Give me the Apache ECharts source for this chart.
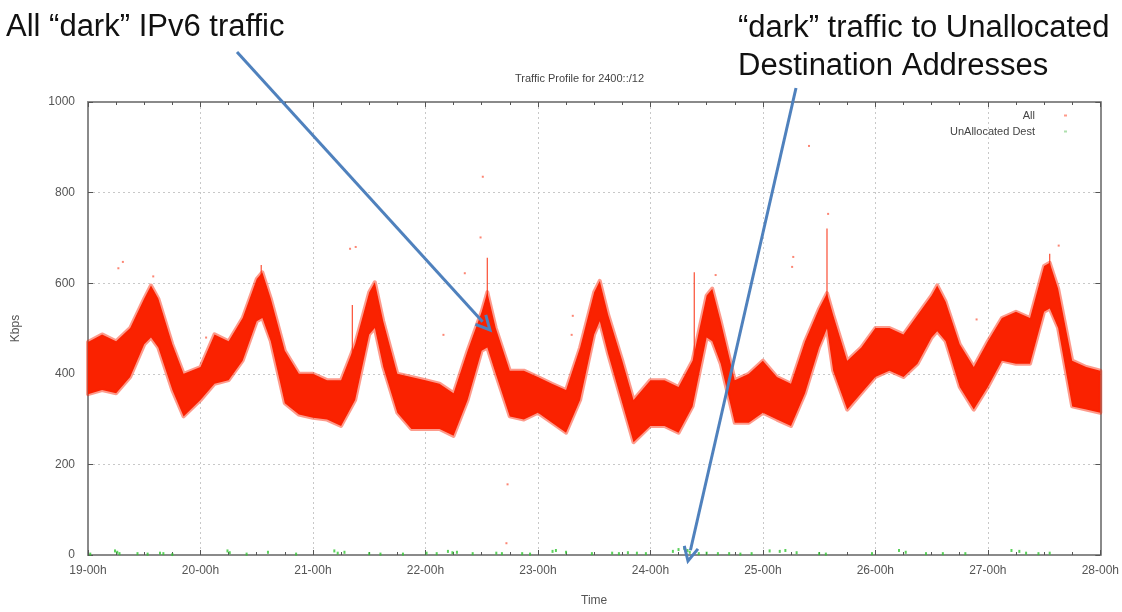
<!DOCTYPE html>
<html>
<head>
<meta charset="utf-8">
<script src="https://cdn.jsdelivr.net/npm/echarts@6/dist/echarts.min.js"></script>
<style>
html,body{margin:0;padding:0;background:#fff;}
#chart{width:1122px;height:612px;}
</style>
</head>
<body>
<div id="chart"></div>
<script>
// ---- data ----
const xTickLabels = ['19-00h','20-00h','21-00h','22-00h','23-00h','24-00h','25-00h','26-00h','27-00h','28-00h'];
const yTicks = [0, 200, 400, 600, 800, 1000];

// band samples (day position, band top / band bottom in Kbps) for "All"
const bandDays = [19.0,19.125,19.25,19.375,19.5,19.56,19.625,19.75,19.85,20.0,20.125,20.25,20.375,20.5,20.55,20.625,20.75,20.875,21.0,21.125,21.25,21.375,21.5,21.55,21.625,21.75,21.875,22.0,22.125,22.25,22.375,22.5,22.55,22.625,22.75,22.875,23.0,23.125,23.25,23.375,23.5,23.55,23.625,23.75,23.85,24.0,24.125,24.25,24.375,24.5,24.55,24.625,24.75,24.875,25.0,25.125,25.25,25.375,25.5,25.57,25.625,25.75,25.875,26.0,26.125,26.25,26.375,26.5,26.55,26.625,26.75,26.875,27.0,27.125,27.25,27.375,27.5,27.55,27.625,27.75,27.875,28.0];
const bandTop = [470,487,472,501,566,595,566,465,400,415,487,472,523,609,624,566,451,400,400,386,386,465,580,602,516,400,393,386,378,357,451,537,580,501,407,407,393,378,364,458,580,605,530,429,342,386,386,371,429,573,588,516,386,400,429,393,378,472,544,578,530,429,458,501,501,487,530,573,595,559,465,415,472,523,537,523,638,645,588,429,415,407];
const bandBottom = [355,364,357,393,465,480,458,364,306,342,378,386,429,516,523,472,335,310,303,299,285,342,487,501,415,314,278,278,278,263,342,451,458,400,306,299,314,292,270,342,487,516,443,335,249,285,285,270,328,480,472,422,292,292,314,299,285,357,458,500,407,321,357,393,407,393,422,480,494,472,371,321,371,429,422,422,537,544,501,328,321,314];

// thin spikes above the band: [day, from, to]
const spikeDays = [20.54, 21.35, 22.55, 24.39, 25.57, 27.55];
const spikeFrom = [600, 440, 560, 430, 560, 620];
const spikeTo   = [640, 552, 656, 624, 721, 665];

// scattered outliers of "All"
const outDays = [25.41,25.58,22.51,22.49,22.73,22.72,21.33,19.31,19.27,19.58,22.35,22.16,23.31,23.30,25.26,25.27,24.58,27.63,21.38,20.05,26.9,27.7];
const outVals = [903,753,835,701,156,26,676,647,633,615,622,486,528,486,636,658,618,683,680,480,520,470];

// "UnAllocated Dest" readings
const unDays = [19.02,19.24,19.26,19.28,19.44,19.53,19.64,19.67,19.75,20.24,20.26,20.41,20.6,20.85,21.19,21.22,21.28,21.5,21.6,21.8,22.01,22.1,22.2,22.24,22.28,22.42,22.63,22.68,22.86,22.93,23.13,23.16,23.25,23.48,23.66,23.72,23.8,23.88,23.96,24.2,24.25,24.3,24.33,24.35,24.43,24.5,24.6,24.7,24.8,24.9,25.06,25.15,25.2,25.3,25.5,25.56,25.97,26.21,26.27,26.45,26.6,26.8,27.21,27.28,27.34,27.45,27.55];
const unVals = [2,9,6,3,3,2,4,3,1,9,5,2,6,2,9,4,6,3,2,2,4,3,8,5,6,3,4,3,3,2,8,10,6,3,4,3,5,4,3,8,12,15,10,6,3,4,3,3,2,3,9,8,10,5,3,2,3,10,6,3,3,3,10,8,4,3,4];

// ---- chart ----
const RED = '#fa2200';
const GREEN = '#33c433';
const BLUE = '#4f81bd';
const chart = echarts.init(document.getElementById('chart'), null, {renderer: 'canvas'});

const bandData = bandDays.map((d, i) => [d, bandTop[i], bandBottom[i]]);
const spikeData = spikeDays.map((d, i) => [d, spikeFrom[i], spikeTo[i]]);
const outData = outDays.map((d, i) => [d, outVals[i]]);
const unData = unDays.map((d, i) => [d, unVals[i]]);

const labelStyle = {color: '#555', fontSize: 12, fontFamily: 'Liberation Sans, Arial, sans-serif'};

const option = {
  animation: false,
  backgroundColor: '#fff',
  title: {
    text: 'Traffic Profile for 2400::/12',
    left: 510, top: 68,
    textStyle: {fontSize: 11, fontWeight: 'normal', color: '#444', fontFamily: 'Liberation Sans, Arial, sans-serif'}
  },
  legend: {
    orient: 'vertical', right: 50, top: 105, align: 'right',
    itemWidth: 3, itemHeight: 2, itemGap: 5,
    textStyle: {fontSize: 11, color: '#444', fontFamily: 'Liberation Sans, Arial, sans-serif', padding: [0, 24, 0, 0]},
    data: [
      {name: 'All', icon: 'rect', itemStyle: {color: '#ff9a8a'}},
      {name: 'UnAllocated Dest', icon: 'rect', itemStyle: {color: '#9ad89a'}}
    ]
  },
  grid: {left: 88, right: 19, top: 102, bottom: 48, containLabel: false},
  xAxis: [{
    type: 'value', min: 19, max: 28, interval: 1,
    name: 'Time', nameLocation: 'middle', nameGap: 40,
    nameTextStyle: labelStyle,
    axisLine: {show: true, onZero: false, lineStyle: {color: '#8a8a8a', width: 2}},
    axisTick: {show: true, inside: true, length: 5, lineStyle: {color: '#555'}},
    minorTick: {show: true, splitNumber: 4, length: 3, lineStyle: {color: '#555'}},
    axisLabel: Object.assign({margin: 10, formatter: v => xTickLabels[Math.round(v - 19)]}, labelStyle),
    splitLine: {show: true, lineStyle: {color: '#c8c8c8', type: [2, 3], width: 1}}
  }, {
    type: 'value', min: 19, max: 28, interval: 1, position: 'top',
    axisLine: {show: true, onZero: false, lineStyle: {color: '#8a8a8a', width: 2}},
    axisTick: {show: true, inside: true, length: 5, lineStyle: {color: '#555'}},
    minorTick: {show: true, splitNumber: 4, length: 3, lineStyle: {color: '#555'}},
    axisLabel: {show: false}, splitLine: {show: false}
  }],
  yAxis: [{
    type: 'value', min: 0, max: 1000, interval: 200,
    name: 'Kbps', nameLocation: 'middle', nameGap: 66, nameRotate: 90,
    nameTextStyle: labelStyle,
    axisLine: {show: true, onZero: false, lineStyle: {color: '#8a8a8a', width: 2}},
    axisTick: {show: true, inside: true, length: 5, lineStyle: {color: '#555'}},
    axisLabel: Object.assign({margin: 13, formatter: v => String(v)}, labelStyle),
    splitLine: {show: true, lineStyle: {color: '#c8c8c8', type: [2, 3], width: 1}}
  }, {
    type: 'value', min: 0, max: 1000, interval: 200, position: 'right',
    axisLine: {show: true, onZero: false, lineStyle: {color: '#8a8a8a', width: 2}},
    axisTick: {show: true, inside: true, length: 5, lineStyle: {color: '#555'}},
    axisLabel: {show: false}, splitLine: {show: false}
  }],
  series: [
    {
      name: 'All', type: 'custom', data: bandData,
      itemStyle: {color: RED},
      encode: {x: 0, y: [1, 2]}, z: 2, silent: true,
      renderItem: function (params, api) {
        if (params.dataIndex !== 0) return null;
        const pts = [];
        for (let i = 0; i < bandDays.length; i++) pts.push(api.coord([bandDays[i], bandTop[i]]));
        for (let i = bandDays.length - 1; i >= 0; i--) pts.push(api.coord([bandDays[i], bandBottom[i]]));
        return {
          type: 'polygon', shape: {points: pts},
          style: {fill: RED, stroke: 'rgba(250,34,0,0.45)', lineWidth: 4, lineJoin: 'round'}
        };
      }
    },
    {
      name: 'allSpikes', type: 'custom', data: spikeData,
      renderItem: function (params, api) {
        const a = api.coord([api.value(0), api.value(1)]);
        const b = api.coord([api.value(0), api.value(2)]);
        return {type: 'line', shape: {x1: a[0], y1: a[1], x2: b[0], y2: b[1]}, style: {stroke: RED, lineWidth: 1.2, opacity: 0.8}};
      },
      encode: {x: 0, y: [1, 2]}, silent: true, z: 3
    },
    {
      name: 'allOutliers', type: 'scatter', data: outData,
      symbol: 'rect', symbolSize: 2, itemStyle: {color: RED, opacity: 0.55}, silent: true
    },
    {
      name: 'UnAllocated Dest', type: 'scatter', data: unData,
      symbol: 'rect', symbolSize: [2, 3], itemStyle: {color: GREEN}, z: 4
    }
  ],
  graphic: []
};
chart.setOption(option);

// ---- annotation arrows and texts ----
function arrow(x1, y1, x2, y2) {
  const ang = Math.atan2(y2 - y1, x2 - x1);
  const hl = 14, hw = 7;
  const bx = x2 - hl * Math.cos(ang), by = y2 - hl * Math.sin(ang);
  const px = -Math.sin(ang), py = Math.cos(ang);
  return [
    {type: 'line', silent: true, z: 100, shape: {x1: x1, y1: y1, x2: bx + 3 * Math.cos(ang), y2: by + 3 * Math.sin(ang)}, style: {stroke: BLUE, lineWidth: 3}},
    {type: 'polyline', silent: true, z: 100, shape: {points: [[bx + hw * px, by + hw * py], [x2, y2], [bx - hw * px, by - hw * py]]}, style: {stroke: BLUE, lineWidth: 3, fill: null, lineJoin: 'miter'}}
  ];
}
const annFont = '31px "Liberation Sans", Arial, sans-serif';
const graphics = [].concat(
  arrow(237, 52, 490, 330),
  arrow(796, 88, 688, 561),
  [
    {type: 'text', left: 6, top: 12, z: 100, style: {text: 'All \u201cdark\u201d IPv6 traffic', font: annFont, fill: '#111'}},
    {type: 'text', left: 738, top: 9, z: 100, style: {text: '\u201cdark\u201d traffic to Unallocated\nDestination Addresses', font: annFont, fill: '#111', lineHeight: 38}}
  ]
);
chart.setOption({graphic: graphics});
</script>
</body>
</html>
